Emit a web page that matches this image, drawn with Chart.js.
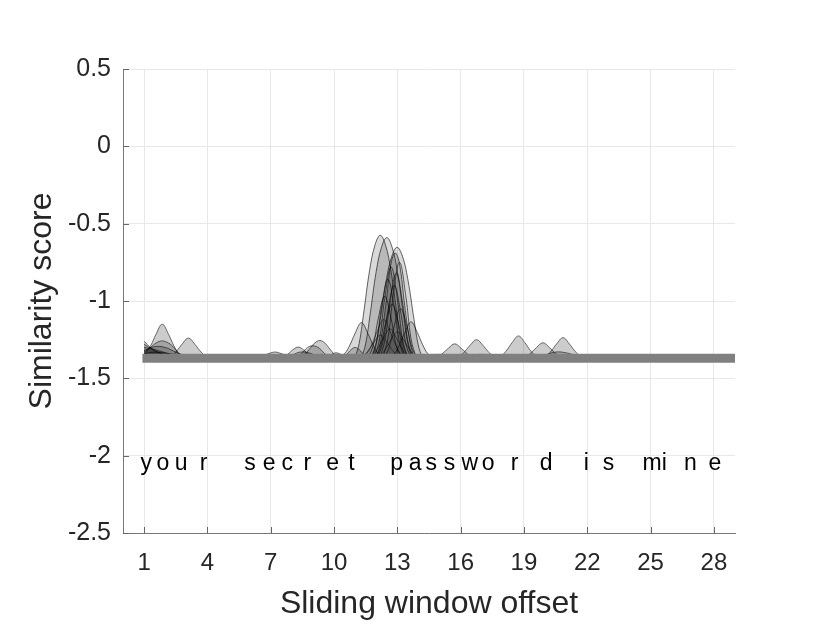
<!DOCTYPE html>
<html>
<head>
<meta charset="utf-8">
<script src="https://cdn.jsdelivr.net/npm/chart.js@4.4.0/dist/chart.umd.min.js"></script>
<style>
  body { margin: 0; background: #fff; }
</style>
</head>
<body>
<canvas id="chartCanvas" width="830" height="642"></canvas>
<script>
// axis ticks
const xTicks = [1, 4, 7, 10, 13, 16, 19, 22, 25, 28];
const yTicks = [0.5, 0, -0.5, -1, -1.5, -2, -2.5];

// floor of all the bumps
const baseValue = -1.37;
const baseX = [0.92, 29];

// the phrase under the curves, one letter per offset
const phraseChars = ['y','o','u','r','s','e','c','r','e','t','p','a','s','s','w','o','r','d','i','s','m','i','n','e'];
const phraseX = [1.10, 1.89, 2.75, 3.82, 6.02, 6.93, 7.78, 8.73, 9.94, 10.82, 12.97, 13.84, 14.61, 15.47, 16.43, 17.30, 18.56, 20.05, 21.95, 23.0, 25.07, 25.65, 26.89, 28.05];
const phraseY = -2;

// similarity curves [offset, score]
// left group
const s01 = [[1,-1.35],[1.31,-1.289],[1.56,-1.216],[1.86,-1.15],[2.16,-1.216],[2.41,-1.289],[2.66,-1.344],[2.96,-1.37]];
const s02 = [[2.0,-1.37],[2.3,-1.355],[2.55,-1.322],[2.8,-1.279],[3.1,-1.24],[3.4,-1.279],[3.65,-1.322],[3.9,-1.355],[4.2,-1.37]];
const s03 = [[1,-1.33],[1.31,-1.30],[1.56,-1.272],[1.86,-1.258],[2.16,-1.272],[2.41,-1.30],[2.66,-1.34],[2.96,-1.37]];
const s04 = [[1,-1.26],[1.3,-1.30],[1.7,-1.335],[2.2,-1.355],[3.0,-1.365],[4.0,-1.37]];
const s05 = [[1,-1.28],[1.5,-1.32],[2.0,-1.345],[2.6,-1.36],[3.5,-1.37]];
const s06 = [[1,-1.30],[1.4,-1.31],[1.9,-1.33],[2.5,-1.35],[3.3,-1.365],[4.5,-1.37]];
const s07 = [[1,-1.32],[1.5,-1.295],[2.0,-1.30],[2.5,-1.33],[3.0,-1.355],[3.6,-1.37]];
const s08 = [[1,-1.34],[1.6,-1.33],[2.4,-1.345],[3.2,-1.35],[4.2,-1.36],[5.5,-1.37]];
// small bumps before the main peak
const s09 = [[6.2,-1.37],[6.6,-1.355],[6.9,-1.34],[7.2,-1.33],[7.5,-1.34],[7.8,-1.355],[8.2,-1.37]];
const s10 = [[7.5,-1.37],[7.8,-1.345],[8.05,-1.315],[8.3,-1.298],[8.55,-1.315],[8.8,-1.345],[9.1,-1.37]];
const s11 = [[8.3,-1.37],[8.6,-1.345],[8.9,-1.30],[9.1,-1.27],[9.33,-1.256],[9.55,-1.27],[9.8,-1.31],[10.05,-1.35],[10.3,-1.37]];
const s12 = [[8.0,-1.37],[8.4,-1.345],[8.75,-1.30],[9.0,-1.29],[9.3,-1.305],[9.6,-1.345],[10.0,-1.37]];
const s13 = [[7.6,-1.37],[8.0,-1.35],[8.4,-1.33],[8.8,-1.335],[9.2,-1.355],[9.7,-1.37]];
const s14 = [[9.4,-1.37],[9.8,-1.35],[10.1,-1.335],[10.4,-1.35],[10.8,-1.37]];
const s33 = [[10.3,-1.37],[10.6,-1.345],[10.8,-1.315],[11.0,-1.30],[11.2,-1.315],[11.4,-1.345],[11.7,-1.37]];
// main peak: the tall ones and the two shoulders
const s15 = [[10.2,-1.37],[10.5,-1.341],[10.75,-1.285],[11.0,-1.209],[11.3,-1.14],[11.6,-1.209],[11.85,-1.285],[12.1,-1.341],[12.4,-1.37]];
const s16 = [[10.99,-1.37],[11.19,-1.275],[11.39,-1.092],[11.69,-0.798],[11.94,-0.639],[12.19,-0.575],[12.44,-0.639],[12.69,-0.798],[12.99,-1.092],[13.19,-1.275],[13.39,-1.37]];
const s17 = [[11.3,-1.37],[11.5,-1.276],[11.7,-1.097],[12.0,-0.808],[12.25,-0.652],[12.5,-0.59],[12.75,-0.652],[13.0,-0.808],[13.3,-1.097],[13.5,-1.276],[13.7,-1.37]];
const s18 = [[11.79,-1.37],[11.99,-1.284],[12.19,-1.119],[12.49,-0.854],[12.74,-0.71],[12.99,-0.653],[13.24,-0.71],[13.49,-0.854],[13.79,-1.119],[13.99,-1.284],[14.19,-1.37]];
const s19 = [[12.0,-1.37],[12.2,-1.268],[12.45,-1.03],[12.7,-0.758],[12.9,-0.69],[13.1,-0.758],[13.35,-1.03],[13.6,-1.268],[13.8,-1.37]];
const s25 = [[12.55,-1.37],[12.85,-1.342],[13.1,-1.283],[13.35,-1.205],[13.65,-1.135],[13.95,-1.205],[14.2,-1.283],[14.45,-1.342],[14.75,-1.37]];
const s26 = [[11.25,-1.37],[11.55,-1.34],[11.8,-1.278],[12.05,-1.195],[12.35,-1.12],[12.65,-1.195],[12.9,-1.278],[13.15,-1.34],[13.45,-1.37]];
const s27 = [[11.55,-1.37],[11.85,-1.347],[12.1,-1.30],[12.35,-1.237],[12.65,-1.18],[12.95,-1.237],[13.2,-1.30],[13.45,-1.347],[13.75,-1.37]];
const s31 = [[11.1,-1.37],[11.4,-1.352],[11.65,-1.315],[11.9,-1.265],[12.2,-1.22],[12.5,-1.265],[12.75,-1.315],[13.0,-1.352],[13.3,-1.37]];
const s32 = [[11.9,-1.37],[12.2,-1.35],[12.45,-1.307],[12.7,-1.251],[13.0,-1.2],[13.3,-1.251],[13.55,-1.307],[13.8,-1.35],[14.1,-1.37]];
// narrow spikes inside the main peak
const s20 = [[11.9,-1.37],[12.15,-1.252],[12.4,-0.986],[12.7,-0.78],[13.0,-0.986],[13.25,-1.252],[13.5,-1.37]];
const s21 = [[11.75,-1.37],[12.0,-1.268],[12.25,-1.04],[12.55,-0.86],[12.85,-1.04],[13.1,-1.268],[13.35,-1.37]];
const s22 = [[12.05,-1.37],[12.3,-1.276],[12.55,-1.064],[12.85,-0.9],[13.15,-1.064],[13.4,-1.276],[13.65,-1.37]];
const s23 = [[11.6,-1.37],[11.85,-1.29],[12.1,-1.11],[12.4,-0.97],[12.7,-1.11],[12.95,-1.29],[13.2,-1.37]];
const s24 = [[11.95,-1.37],[12.2,-1.30],[12.45,-1.142],[12.75,-1.02],[13.05,-1.142],[13.3,-1.30],[13.55,-1.37]];
const s28 = [[12.35,-1.37],[12.6,-1.306],[12.85,-1.162],[13.15,-1.05],[13.45,-1.162],[13.7,-1.306],[13.95,-1.37]];
const s29 = [[12.15,-1.37],[12.4,-1.26],[12.65,-1.013],[12.95,-0.82],[13.25,-1.013],[13.5,-1.26],[13.75,-1.37]];
const s30 = [[12.3,-1.37],[12.55,-1.246],[12.8,-0.967],[13.1,-0.75],[13.4,-0.967],[13.65,-1.246],[13.9,-1.37]];
// right group
const s34 = [[14.3,-1.37],[14.6,-1.355],[15.0,-1.345],[15.4,-1.355],[15.8,-1.37]];
const s35 = [[14.62,-1.37],[14.92,-1.359],[15.17,-1.336],[15.42,-1.305],[15.72,-1.277],[16.02,-1.305],[16.27,-1.336],[16.52,-1.359],[16.82,-1.37]];
const s36 = [[15.65,-1.37],[15.95,-1.356],[16.2,-1.326],[16.45,-1.286],[16.75,-1.25],[17.05,-1.286],[17.3,-1.326],[17.55,-1.356],[17.85,-1.37]];
const s37 = [[17.64,-1.37],[17.94,-1.353],[18.19,-1.317],[18.44,-1.269],[18.74,-1.226],[19.04,-1.269],[19.29,-1.317],[19.54,-1.353],[19.84,-1.37]];
const s38 = [[18.8,-1.37],[19.1,-1.358],[19.35,-1.333],[19.6,-1.30],[19.9,-1.27],[20.2,-1.30],[20.45,-1.333],[20.7,-1.358],[21.0,-1.37]];
const s39 = [[19.75,-1.37],[20.05,-1.354],[20.3,-1.321],[20.55,-1.277],[20.85,-1.237],[21.15,-1.277],[21.4,-1.321],[21.65,-1.354],[21.95,-1.37]];
const s40 = [[19.6,-1.37],[20.0,-1.35],[20.5,-1.33],[21.0,-1.335],[21.5,-1.355],[21.9,-1.37]];
const s41 = [[16.0,-1.37],[16.5,-1.352],[17.0,-1.345],[17.5,-1.355],[18.0,-1.37]];

const sideCurves = [s01, s02, s03, s04, s05, s06, s07, s08, s09, s10, s11, s12, s13, s14, s33,
    s34, s35, s36, s37, s38, s39, s40, s41];
const mainCurves = [s15, s16, s17, s18, s19, s25];
const wideCurves = [s26, s27, s31, s32];
const spikeCurves = [s20, s21, s22, s23, s24, s28, s29, s30];

const fontFamily = "'Liberation Sans', Arial, Helvetica, sans-serif";

// baseline goes first so it's painted on top of the fills
const datasets = [{
    data: baseX.map(x => [x, baseValue]),
    borderColor: '#808080',
    borderWidth: 9,
    borderCapStyle: 'butt',
    pointRadius: 0,
    fill: false
}];

function addCurves(list, fillAlpha, lineAlpha) {
    list.forEach(c => {
        datasets.push({
            data: c,
            borderColor: 'rgba(0, 0, 0, ' + lineAlpha + ')',
            borderWidth: 1,
            backgroundColor: 'rgba(0, 0, 0, ' + fillAlpha + ')',
            pointRadius: 0,
            tension: 0.4,
            fill: { value: baseValue }
        });
    });
}
addCurves(spikeCurves, 0.03, 0.6);
addCurves(wideCurves, 0.06, 0.5);
addCurves(mainCurves, 0.15, 0.6);
addCurves(sideCurves, 0.2, 0.55);

// letters at y = -2 and MATLAB style inward ticks
const extrasPlugin = {
    id: 'extras',
    afterDatasetsDraw(chart) {
        const ctx = chart.ctx;
        const xs = chart.scales.x, ys = chart.scales.y;
        ctx.save();
        ctx.fillStyle = '#000';
        ctx.font = '23px ' + fontFamily;
        ctx.textAlign = 'center';
        ctx.textBaseline = 'alphabetic';
        const py = ys.getPixelForValue(phraseY) + 14;
        phraseChars.forEach((ch, i) => {
            ctx.fillText(ch, xs.getPixelForValue(phraseX[i]), py);
        });
        ctx.restore();
    },
    afterDraw(chart) {
        const ctx = chart.ctx;
        const area = chart.chartArea;
        const xs = chart.scales.x, ys = chart.scales.y;
        ctx.save();
        ctx.strokeStyle = '#666';
        ctx.lineWidth = 1;
        ctx.beginPath();
        yTicks.forEach(v => {
            const p = Math.round(ys.getPixelForValue(v)) + 0.5;
            ctx.moveTo(area.left, p);
            ctx.lineTo(area.left + 6, p);
        });
        xTicks.forEach(v => {
            const p = Math.round(xs.getPixelForValue(v)) + 0.5;
            ctx.moveTo(p, area.bottom);
            ctx.lineTo(p, area.bottom - 6);
        });
        ctx.stroke();
        ctx.restore();
    }
};

const ctx = document.getElementById('chartCanvas').getContext('2d');
const myChart = new Chart(ctx, {
    type: 'line',
    data: { datasets: datasets },
    options: {
        responsive: false,
        animation: false,
        layout: { padding: { top: 69, right: 95, left: 0, bottom: 0 } },
        plugins: {
            legend: { display: false },
            tooltip: { enabled: false }
        },
        scales: {
            x: {
                type: 'linear',
                min: 0,
                max: 29,
                afterBuildTicks: scale => { scale.ticks = xTicks.map(v => ({ value: v })); },
                afterFit: scale => { scale.height = 109; },
                grid: { color: '#e8e8e8', drawTicks: false },
                border: { display: true, color: '#777' },
                ticks: {
                    padding: 16,
                    color: '#262626',
                    font: { family: fontFamily, size: 24 },
                    maxRotation: 0,
                    callback: v => String(v)
                },
                title: {
                    display: true,
                    text: 'Sliding window offset',
                    color: '#262626',
                    font: { family: fontFamily, size: 32 },
                    padding: { top: 0, bottom: 19 }
                }
            },
            y: {
                min: -2.5,
                max: 0.5,
                afterBuildTicks: scale => { scale.ticks = yTicks.map(v => ({ value: v })); },
                afterFit: scale => { scale.width = 123; },
                grid: { color: '#e8e8e8', drawTicks: false },
                border: { display: true, color: '#777' },
                ticks: {
                    padding: 12,
                    color: '#262626',
                    font: { family: fontFamily, size: 25 },
                    callback: v => String(v)
                },
                title: {
                    display: true,
                    text: 'Similarity score',
                    color: '#262626',
                    font: { family: fontFamily, size: 32 },
                    padding: { top: 23, bottom: 0 }
                }
            }
        }
    },
    plugins: [extrasPlugin]
});
</script>
</body>
</html>
